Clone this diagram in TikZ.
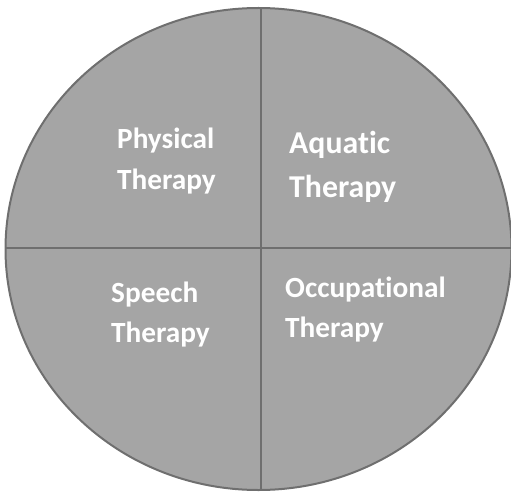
\documentclass[tikz,border=0pt]{standalone}
\usepackage{fontspec}
\setmainfont[Ligatures={NoCommon}]{Carlito}
\definecolor{diskfill}{HTML}{A5A5A5}
\definecolor{diskline}{HTML}{6F6F6F}
\begin{document}
\begin{tikzpicture}[x=1pt,y=1pt,
  lbl/.style={anchor=base west,inner sep=0pt,align=left,text=white,font=\bfseries\fontsize{29.3}{40}\selectfont},
  border/.style={draw=diskline,line width=2pt}]
\useasboundingbox (0,0) rectangle (511,491);
\coordinate (c) at (258.5,242);
\fill[diskfill] (c) ellipse [x radius=253,y radius=241];
\begin{scope}
  \clip (c) ellipse [x radius=253,y radius=241];
  \coordinate (vt) at (261,491);
  \coordinate (vb) at (261,0);
  \coordinate (hl) at (0,243);
  \coordinate (hr) at (511,243);
  \draw[border] (vt) -- (vb);
  \draw[border] (hl) -- (hr);
\end{scope}
\draw[border] (c) ellipse [x radius=253,y radius=241];
\node[lbl] (pt) at (117,302) {Physical\\Therapy};
\node[lbl,font=\bfseries\fontsize{31.8}{44}\selectfont] (at) at (289,294) {Aquatic\\Therapy};
\node[lbl] (st) at (111,149) {Speech\\Therapy};
\node[lbl] (ot) at (285,154) {Occupational\\Therapy};
\end{tikzpicture}
\end{document}
